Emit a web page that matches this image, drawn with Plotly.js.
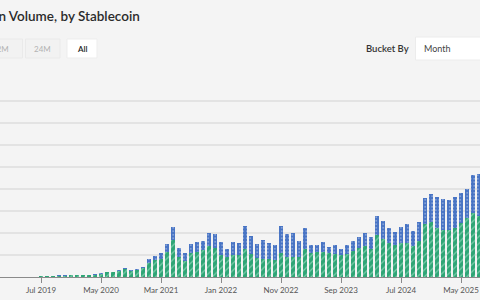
<!DOCTYPE html>
<html>
<head>
<meta charset="utf-8">
<script src="https://cdn.plot.ly/plotly-3.0.1.min.js"></script>
<style>
  html, body { margin: 0; padding: 0; background: #f4f4f4; }
  #chart { width: 480px; height: 300px; }
</style>
</head>
<body>
<div id="chart"></div>
<script>
// Monthly buckets, Jul 2019 – Aug 2025
const months = [
  "2019-07","2019-08","2019-09","2019-10","2019-11","2019-12",
  "2020-01","2020-02","2020-03","2020-04","2020-05","2020-06","2020-07","2020-08","2020-09","2020-10","2020-11","2020-12",
  "2021-01","2021-02","2021-03","2021-04","2021-05","2021-06","2021-07","2021-08","2021-09","2021-10","2021-11","2021-12",
  "2022-01","2022-02","2022-03","2022-04","2022-05","2022-06","2022-07","2022-08","2022-09","2022-10","2022-11","2022-12",
  "2023-01","2023-02","2023-03","2023-04","2023-05","2023-06","2023-07","2023-08","2023-09","2023-10","2023-11","2023-12",
  "2024-01","2024-02","2024-03","2024-04","2024-05","2024-06","2024-07","2024-08","2024-09","2024-10","2024-11","2024-12",
  "2025-01","2025-02","2025-03","2025-04","2025-05","2025-06","2025-07","2025-08"
];

// Volume per stablecoin (one unit per gridline)
const usdtVolume = [
  0.05, 0.055, 0.06, 0.06, 0.065, 0.07,
  0.07, 0.08, 0.09, 0.11, 0.15, 0.21, 0.23, 0.29, 0.35, 0.29, 0.33, 0.39,
  0.62, 0.77, 0.84, 1.15, 1.68, 0.93, 0.73, 1.08, 1.15, 1.23, 1.40, 1.30,
  1.00, 0.89, 1.00, 0.98, 1.28, 1.05, 0.85, 0.80, 0.80, 0.77, 1.11, 0.92,
  0.92, 0.91, 1.27, 1.11, 1.15, 1.15, 1.08, 1.05, 0.98, 1.06, 1.17, 1.34,
  1.42, 1.29, 1.91, 1.74, 1.53, 1.45, 1.53, 1.56, 1.42, 1.65, 2.41, 2.49,
  2.23, 2.14, 2.14, 2.21, 2.44, 2.70, 2.90, 2.77
];
const usdcVolume = [
  0.005, 0.005, 0.005, 0.01, 0.008, 0.007,
  0.01, 0.01, 0.01, 0.01, 0.02, 0.02, 0.02, 0.03, 0.04, 0.03, 0.05, 0.06,
  0.18, 0.18, 0.24, 0.34, 0.61, 0.37, 0.38, 0.41, 0.45, 0.42, 0.59, 0.65,
  0.58, 0.37, 0.60, 0.55, 1.05, 0.81, 0.65, 0.87, 0.73, 0.68, 1.22, 1.05,
  1.07, 0.73, 0.98, 0.34, 0.30, 0.42, 0.30, 0.40, 0.29, 0.39, 0.45, 0.46,
  0.57, 0.51, 0.85, 0.81, 0.68, 0.61, 0.76, 0.85, 0.67, 0.84, 1.17, 1.28,
  1.42, 1.39, 1.36, 1.43, 1.36, 1.29, 1.74, 1.91
];

const tickMonths = ["2019-07","2020-05","2021-03","2022-01","2022-11","2023-09","2024-07","2025-05"];
const tickLabels = ["Jul 2019","May 2020","Mar 2021","Jan 2022","Nov 2022","Sep 2023","Jul 2024","May 2025"];

const GREEN = "#2fa576";
const BLUE = "#4874c4";
const W = 480, PLOT_TOP = 79, PLOT_BOTTOM = 277, PLOT_H = PLOT_BOTTOM - PLOT_TOP;
const px = x => x / W;
const py = y => (PLOT_BOTTOM - y) / PLOT_H;

const traces = [
  {
    type: "bar", name: "USDT", x: months, y: usdtVolume,
    marker: {
      color: GREEN,
      line: { width: 0 },
      pattern: { shape: "/", fillmode: "overlay", fgcolor: "rgba(225,255,240,0.85)", size: 5, solidity: 0.25 }
    },
    hoverinfo: "x+y"
  },
  {
    type: "bar", name: "USDC", x: months, y: usdcVolume,
    marker: {
      color: BLUE,
      line: { width: 0 },
      pattern: { shape: ".", fillmode: "overlay", fgcolor: "rgba(255,255,255,0.85)", size: 3.5, solidity: 0.2 }
    },
    hoverinfo: "x+y"
  }
];

const btnY0 = py(58), btnY1 = py(39), btnMid = py(48.5);
const inactiveFont = { family: "Lato, sans-serif", size: 8, color: "#b3b3b3" };

const layout = {
  width: 480, height: 300,
  margin: { l: 0, r: 0, t: PLOT_TOP, b: 300 - PLOT_BOTTOM, pad: 0 },
  paper_bgcolor: "#f4f4f4",
  plot_bgcolor: "#f4f4f4",
  barmode: "stack",
  bargap: 0.18,
  showlegend: false,
  font: { family: "Lato, sans-serif", color: "#444" },
  xaxis: {
    type: "category",
    range: [-6.833, 73.167],
    tickmode: "array",
    tickvals: tickMonths,
    ticktext: tickLabels,
    ticks: "outside", ticklen: 5, tickwidth: 1, tickcolor: "#8a8a8a",
    showline: true, linecolor: "#8a8a8a", linewidth: 1,
    showgrid: false,
    tickfont: { family: "Lato, sans-serif", size: 8, color: "#555" }
  },
  yaxis: {
    range: [0, 9], dtick: 1,
    showticklabels: false,
    showgrid: true, gridcolor: "#e3e3e3", gridwidth: 1.5,
    zeroline: false, showline: false, ticks: ""
  },
  shapes: [
    { type: "rect", xref: "paper", yref: "paper", x0: px(-20), x1: px(22.5), y0: btnY0, y1: btnY1,
      fillcolor: "#f2f2f2", line: { color: "#eaeaea", width: 1 } },
    { type: "rect", xref: "paper", yref: "paper", x0: px(25.5), x1: px(60), y0: btnY0, y1: btnY1,
      fillcolor: "#f2f2f2", line: { color: "#eaeaea", width: 1 } },
    { type: "rect", xref: "paper", yref: "paper", x0: px(67), x1: px(97), y0: btnY0, y1: btnY1,
      fillcolor: "#ffffff", line: { color: "#ededed", width: 1 } },
    { type: "rect", xref: "paper", yref: "paper", x0: px(415.5), x1: px(500), y0: py(60), y1: py(37),
      fillcolor: "#ffffff", line: { color: "#ececec", width: 1 } }
  ],
  annotations: [
    { text: "Adjusted Transaction Volume, by Stablecoin", xref: "paper", yref: "paper",
      x: px(142), y: py(16.5), xanchor: "right", yanchor: "middle", showarrow: false,
      font: { family: "Lato, sans-serif", size: 13.5, color: "#2b2b2b", weight: 600 } },
    { text: "12M", xref: "paper", yref: "paper", x: px(11), y: btnMid,
      xanchor: "right", yanchor: "middle", showarrow: false, font: inactiveFont },
    { text: "24M", xref: "paper", yref: "paper", x: px(42.7), y: btnMid,
      xanchor: "center", yanchor: "middle", showarrow: false, font: inactiveFont },
    { text: "All", xref: "paper", yref: "paper", x: px(82), y: btnMid,
      xanchor: "center", yanchor: "middle", showarrow: false,
      font: { family: "Lato, sans-serif", size: 8, color: "#222", weight: 600 } },
    { text: "Bucket By", xref: "paper", yref: "paper", x: px(411), y: py(48),
      xanchor: "right", yanchor: "middle", showarrow: false,
      font: { family: "Lato, sans-serif", size: 9.5, color: "#333", weight: 600 } },
    { text: "Month", xref: "paper", yref: "paper", x: px(422), y: py(48),
      xanchor: "left", yanchor: "middle", showarrow: false,
      font: { family: "Lato, sans-serif", size: 9, color: "#444" } }
  ]
};

Plotly.newPlot("chart", traces, layout, { displayModeBar: false, staticPlot: true });
</script>
</body>
</html>
